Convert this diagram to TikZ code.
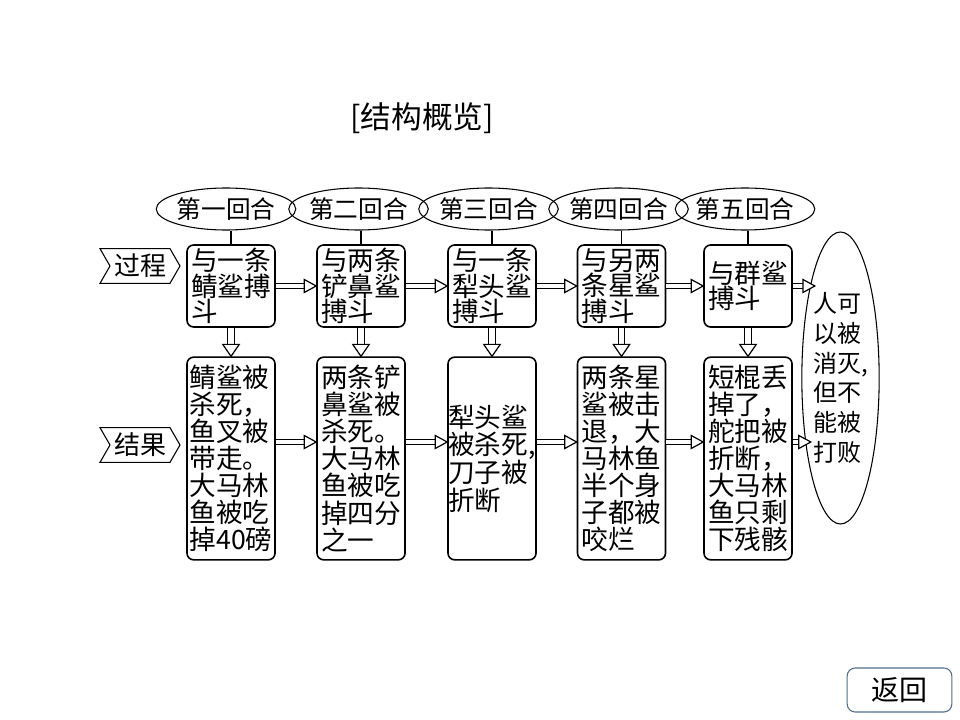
\documentclass[tikz,border=0pt]{standalone}
\usepackage{fontspec}
\setmainfont{Noto Sans CJK SC}
\usetikzlibrary{shapes.geometric,shapes.symbols,calc}
\definecolor{btnblue}{RGB}{80,110,140}
\newcommand\HArr[2]{%
  \draw[hol] (#1) -- ([xshift=-9pt]#2);
  \draw[line width=0.9pt,fill=white,line join=miter] (#2) -- ++(-9pt,4.9pt) -- ++(0,-9.8pt) -- cycle;}
\newcommand\VArr[2]{%
  \draw[hol,double distance=3.9pt] (#1) -- ([yshift=9pt]#2);
  \draw[line width=0.9pt,fill=white,line join=miter] (#2) -- ++(-6.2pt,9pt) -- ++(12.4pt,0) -- cycle;}
\begin{document}
\begin{tikzpicture}[x=0.75pt,y=-0.75pt,
  pbox/.style={draw,line width=1.2pt,rounded corners=5pt,inner sep=0pt,align=left,minimum width=66pt},
  tbox/.style={pbox,minimum height=61.5pt,font=\fontsize{20}{19}\selectfont},
  bbox/.style={pbox,minimum height=152pt,font=\fontsize{20}{20.3}\selectfont},
  oval/.style={ellipse,draw,line width=0.8pt,inner sep=0pt,minimum width=91pt,minimum height=31.5pt,font=\fontsize{18.5}{18.5}\selectfont},
  lbl/.style={signal,signal from=west,signal to=east,signal pointer angle=120,draw,line width=0.8pt,minimum width=60pt,minimum height=26pt,inner sep=1pt,font=\fontsize{19.5}{19.5}\selectfont},
  hol/.style={double,double distance=2.9pt,line width=0.9pt},
  conn/.style={line width=0.9pt},
]
\fill[white] (0,0) rectangle (960,720);
\useasboundingbox (0,0) rectangle (960,720);

\node[font=\fontsize{23}{23}\selectfont] (title) at (422,118) {[结构概览]};

% round labels
\node[oval] (e1) at (226,209) {第一回合};
\node[oval] (e2) at (358.5,209) {第二回合};
\node[oval] (e3) at (488.5,209) {第三回合};
\node[oval] (e4) at (618.5,209) {第四回合};
\node[oval] (e5) at (745,209) {第五回合};

% row labels
\node[lbl] (guo) at (140,266) {过程};
\node[lbl] (jie) at (140,445) {结果};

% top boxes
\node[tbox] (t1) at (231,286) {与一条\\鲭鲨搏\\斗};
\node[tbox] (t2) at (361,286) {与两条\\铲鼻鲨\\搏斗};
\node[tbox] (t3) at (492,286) {与一条\\犁头鲨\\搏斗};
\node[tbox] (t4) at (621.5,286) {与另两\\条星鲨\\搏斗};
\node[tbox] (t5) at (748,286) {与群鲨\\搏斗};

% bottom boxes
\node[bbox] (b1) at (231,458.5) {鲭鲨被\\杀死，\\鱼叉被\\带走。\\大马林\\鱼被吃\\掉40磅};
\node[bbox] (b2) at (361,458.5) {两条铲\\鼻鲨被\\杀死。\\大马林\\鱼被吃\\掉四分\\之一};
\node[bbox] (b3) at (492,458.5) {犁头鲨\\被杀死,\\刀子被\\折断};
\node[bbox] (b4) at (621.5,458.5) {两条星\\鲨被击\\退，大\\马林鱼\\半个身\\子都被\\咬烂};
\node[bbox] (b5) at (748,458.5) {短棍丢\\掉了，\\舵把被\\折断，\\大马林\\鱼只剩\\下残骸};

% final ellipse
\node[ellipse,draw,line width=0.8pt,inner sep=0pt,minimum width=49.5pt,minimum height=219pt,align=left,font=\fontsize{18}{22.3}\selectfont] (E) at (840.5,378) {人可\\以被\\消灭,\\但不\\能被\\打败};

% return button
\node[draw=btnblue,line width=0.8pt,rounded corners=6pt,minimum width=78.5pt,minimum height=33pt,inner sep=0pt,font=\fontsize{21}{21}\selectfont] (ret) at (899.5,690) {返回};

% connectors ellipse -> box
\foreach \i in {1,...,5}{\draw[conn] (t\i.north) -- (t\i.north |- e\i.south);}

% down hollow arrows
\VArr{t1.south}{b1.north}
\VArr{t2.south}{b2.north}
\VArr{t3.south}{b3.north}
\VArr{t4.south}{b4.north}
\VArr{t5.south}{b5.north}

% horizontal hollow arrows (top row)
\HArr{t1.east}{t2.west}
\HArr{t2.east}{t3.west}
\HArr{t3.east}{t4.west}
\HArr{t4.east}{t5.west}
\coordinate (ea) at ($(E.center)+(-25.6,-92)$);
\HArr{t5.east}{ea}

% bottom row
\coordinate (rowB) at (0,442);
\coordinate (s1) at (b1.east |- rowB);
\coordinate (d2) at (b2.west |- rowB);
\coordinate (s2) at (b2.east |- rowB);
\coordinate (d3) at (b3.west |- rowB);
\coordinate (s3) at (b3.east |- rowB);
\coordinate (d4) at (b4.west |- rowB);
\coordinate (s4) at (b4.east |- rowB);
\coordinate (d5) at (b5.west |- rowB);
\coordinate (s5) at (b5.east |- rowB);
\coordinate (eb) at ($(E.center)+(-29.7,64)$);
\HArr{s1}{d2}
\HArr{s2}{d3}
\HArr{s3}{d4}
\HArr{s4}{d5}
\HArr{s5}{eb}
\end{tikzpicture}
\end{document}
